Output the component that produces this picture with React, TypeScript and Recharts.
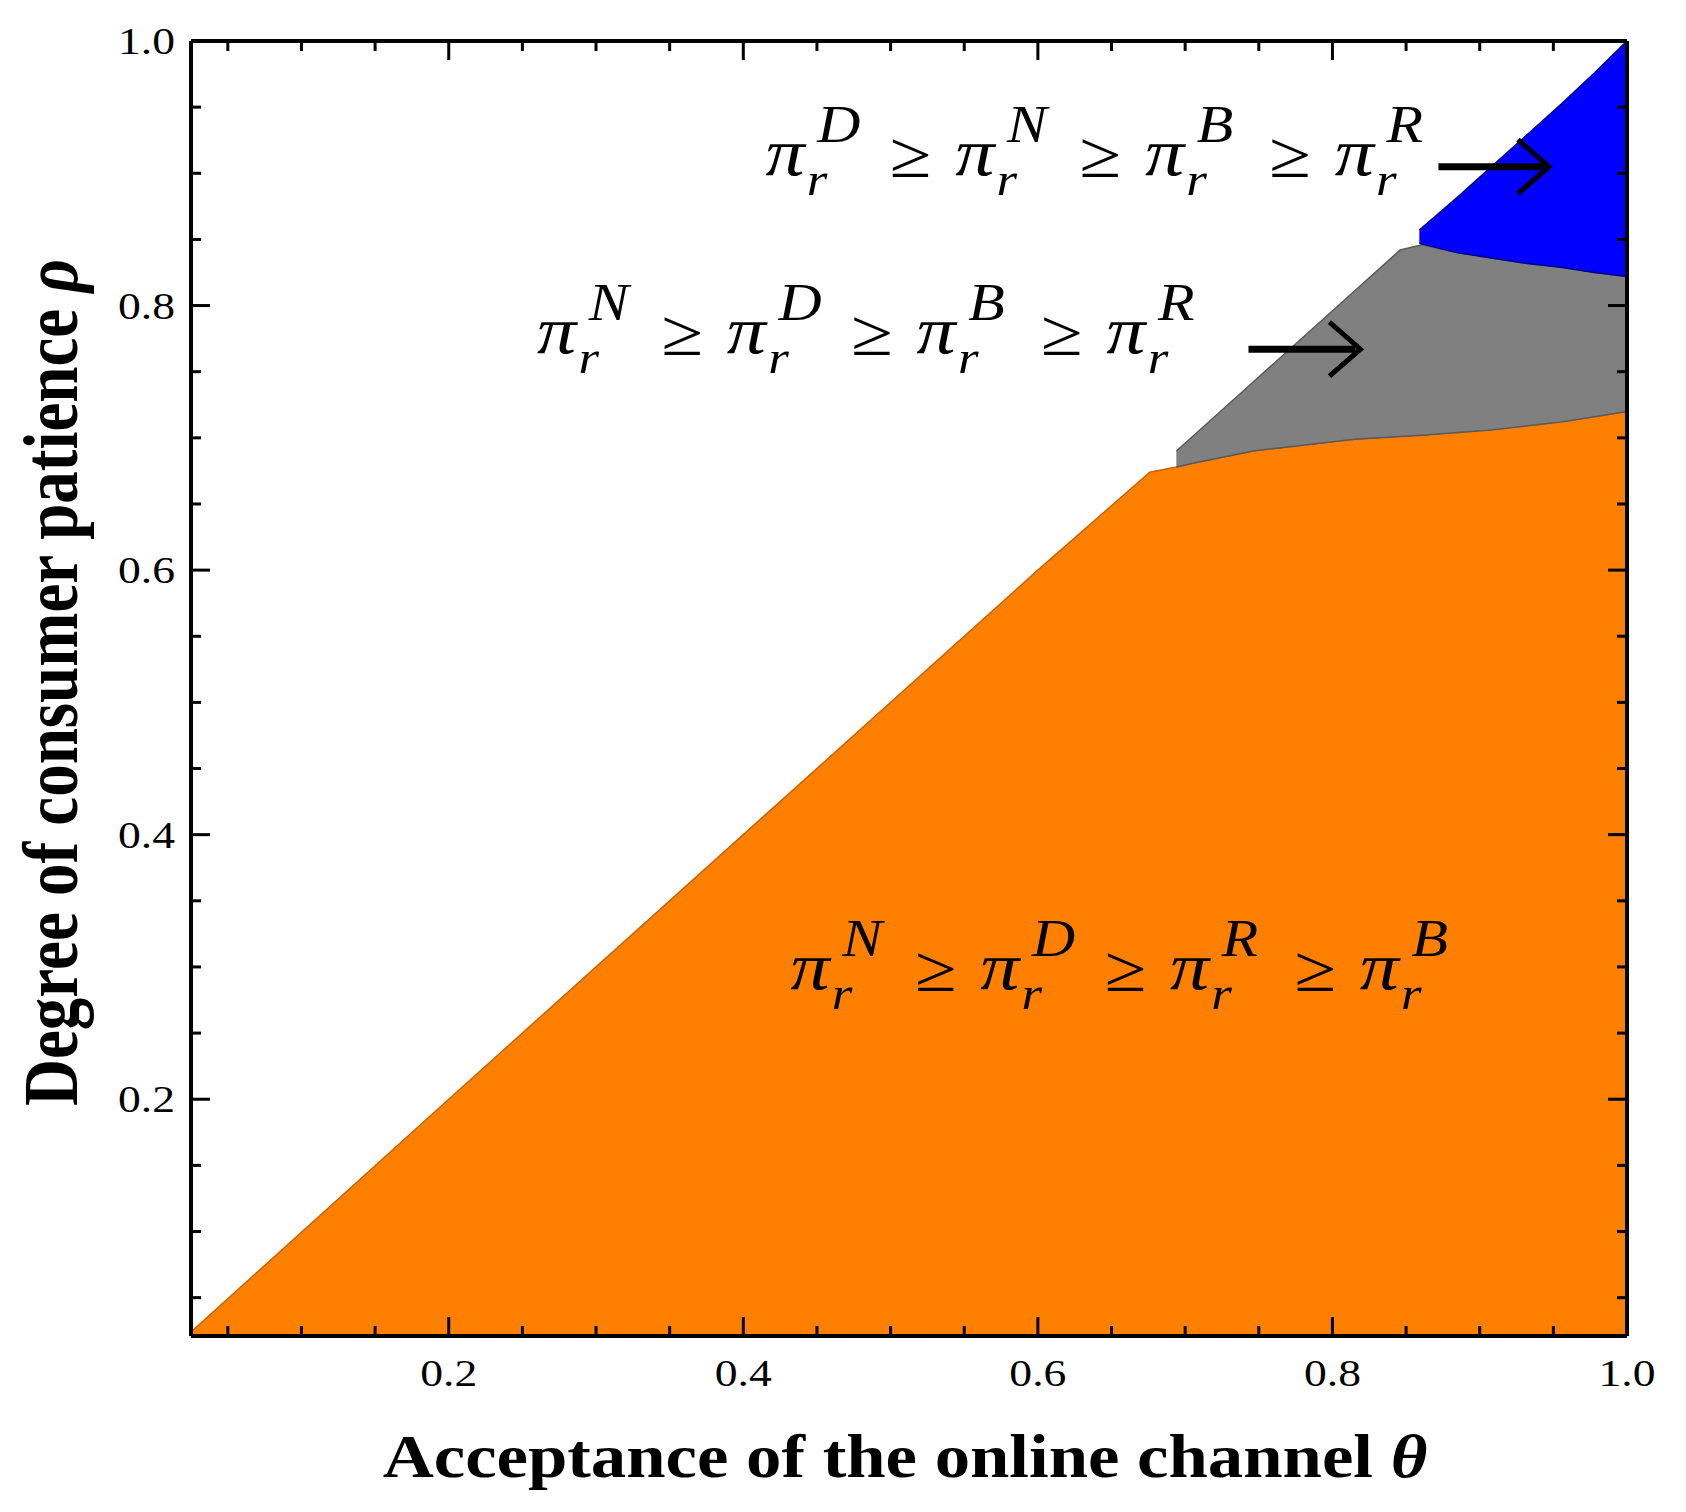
import React from "react";
import {
  ComposedChart,
  Area,
  XAxis,
  YAxis,
  ReferenceDot,
  ReferenceLine,
} from "recharts";

// region boundaries (theta on x, rho on y)
const orangeTheta = [0.025, 0.2, 0.4, 0.6, 0.676, 0.694, 0.706, 0.746, 0.815, 0.885, 0.931, 0.966, 1.0];
const orangeRho = [0.024, 0.2, 0.4, 0.6, 0.674, 0.678, 0.681, 0.69, 0.699, 0.704, 0.709, 0.714, 0.72];

const grayTheta = [0.694, 0.706, 0.746, 0.815, 0.846, 0.861, 0.885, 0.908, 0.931, 0.955, 0.978, 1.0];
const grayLow = [0.678, 0.681, 0.69, 0.699, 0.701, 0.702, 0.704, 0.706, 0.709, 0.712, 0.716, 0.72];
const grayHigh = [0.69, 0.702, 0.742, 0.811, 0.842, 0.846, 0.84, 0.836, 0.832, 0.829, 0.825, 0.822];

const blueTheta = [0.859, 0.885, 0.908, 0.931, 0.955, 0.978, 1.0];
const blueLow = [0.847, 0.84, 0.836, 0.832, 0.829, 0.825, 0.822];
const blueHigh = [0.857, 0.882, 0.905, 0.928, 0.952, 0.976, 1.0];

const xTicks = [0.05, 0.1, 0.15, 0.2, 0.25, 0.3, 0.35, 0.4, 0.45, 0.5, 0.55, 0.6, 0.65, 0.7, 0.75, 0.8, 0.85, 0.9, 0.95, 1.0];
const yTicks = [0.05, 0.1, 0.15, 0.2, 0.25, 0.3, 0.35, 0.4, 0.45, 0.5, 0.55, 0.6, 0.65, 0.7, 0.75, 0.8, 0.85, 0.9, 0.95, 1.0];

// inequality annotations
const formulaSupers = [
  ["D", "N", "B", "R"],
  ["N", "D", "B", "R"],
  ["N", "D", "R", "B"],
];
const formulaTheta = [0.415, 0.26, 0.432];
const formulaRho = [0.899, 0.764, 0.283];

const arrowFrom = [0.872, 0.743];
const arrowTo = [0.947, 0.819];
const arrowRho = [0.905, 0.767];

const orangeData = orangeTheta.map((x, i) => ({ x, rho: orangeRho[i] }));
const grayData = grayTheta.map((x, i) => ({ x, band: [grayLow[i], grayHigh[i]] }));
const blueData = blueTheta.map((x, i) => ({ x, band: [blueLow[i], blueHigh[i]] }));

const SERIF = '"Liberation Serif", "Times New Roman", serif';

const isMajor = (v: number) => Math.abs(v * 5 - Math.round(v * 5)) < 1e-6;

function BottomTick(props: any) {
  const { x, y, payload } = props;
  const major = isMajor(payload.value);
  return (
    <g>
      <line x1={x} y1={y} x2={x} y2={y - (major ? 19 : 10)} stroke="#000" strokeWidth={3} />
      {major && (
        <text
          transform={`translate(${x},${y + 50}) scale(1.2,1)`}
          textAnchor="middle"
          fontFamily={SERIF}
          fontSize={38}
          fill="#000"
        >
          {payload.value.toFixed(1)}
        </text>
      )}
    </g>
  );
}

function TopTick(props: any) {
  const { x, y, payload } = props;
  const major = isMajor(payload.value);
  return <line x1={x} y1={y} x2={x} y2={y + (major ? 19 : 10)} stroke="#000" strokeWidth={3} />;
}

function LeftTick(props: any) {
  const { x, y, payload } = props;
  const major = isMajor(payload.value);
  return (
    <g>
      <line x1={x} y1={y} x2={x + (major ? 19 : 10)} y2={y} stroke="#000" strokeWidth={3} />
      {major && (
        <text
          transform={`translate(${x - 16},${y + 13}) scale(1.2,1)`}
          textAnchor="end"
          fontFamily={SERIF}
          fontSize={38}
          fill="#000"
        >
          {payload.value.toFixed(1)}
        </text>
      )}
    </g>
  );
}

function RightTick(props: any) {
  const { x, y, payload } = props;
  const major = isMajor(payload.value);
  return <line x1={x} y1={y} x2={x - (major ? 19 : 10)} y2={y} stroke="#000" strokeWidth={3} />;
}

function XTitle(props: any) {
  const { x, y, width } = props.viewBox;
  return (
    <text
      transform={`translate(${x + width / 2 - 4},${y + 141}) scale(1.16,1)`}
      textAnchor="middle"
      fontFamily={SERIF}
      fontWeight="bold"
      fontSize={61}
      fill="#000"
    >
      Acceptance of the online channel <tspan fontStyle="italic">θ</tspan>
    </text>
  );
}

function YTitle(props: any) {
  const { y, height } = props.viewBox;
  return (
    <text
      transform={`translate(69,${y + height / 2 - 6}) scale(1.2,1) rotate(-90)`}
      textAnchor="middle"
      fontFamily={SERIF}
      fontWeight="bold"
      fontSize={65}
      fill="#000"
    >
      Degree of consumer patience <tspan fontStyle="italic">ρ</tspan>
    </text>
  );
}

// one text element per inequality; sub/superscripts stacked with tspans
function Formula({ cx, cy, supers }: { cx: number; cy: number; supers: string[] }) {
  const parts: React.ReactNode[] = [];
  supers.forEach((s, i) => {
    const x0 = i * 165;
    parts.push(
      <tspan key={`p${i}`} x={x0} y={0} fontSize={68} fontStyle="italic">π</tspan>,
      <tspan key={`r${i}`} x={x0 + 36} y={20} fontSize={46} fontStyle="italic">r</tspan>,
      <tspan key={`s${i}`} x={x0 + 45} y={-33} fontSize={52} fontStyle="italic">{s}</tspan>
    );
    if (i < supers.length - 1) {
      parts.push(
        <tspan key={`g${i}`} x={x0 + 108} y={2} fontSize={66}>≥</tspan>
      );
    }
  });
  return (
    <text transform={`translate(${cx},${cy}) scale(1.15,1)`} fontFamily={SERIF} fill="#000">
      {parts}
    </text>
  );
}

function Arrow(props: any) {
  const { x1, y1, x2 } = props;
  return (
    <g>
      <line x1={x1} y1={y1} x2={x2 - 5} y2={y1} stroke="#000" strokeWidth={7} />
      <polyline
        points={`${x2 - 31},${y1 - 27} ${x2},${y1} ${x2 - 31},${y1 + 27}`}
        fill="none"
        stroke="#000"
        strokeWidth={5}
      />
    </g>
  );
}

export default function App() {
  return (
    <div style={{ width: 1670, height: 1500 }}>
      <ComposedChart width={1670} height={1500} margin={{ top: 32, right: 50, bottom: 0, left: 0 }}>
        <XAxis
          dataKey="x"
          type="number"
          domain={[0.025, 1]}
          allowDataOverflow
          ticks={xTicks}
          interval={0}
          tickSize={0}
          tickMargin={0}
          tickLine={false}
          tick={BottomTick}
          height={172}
          axisLine={{ stroke: "#000", strokeWidth: 4 }}
          label={{ content: XTitle }}
        />
        <XAxis
          xAxisId="top"
          orientation="top"
          dataKey="x"
          type="number"
          domain={[0.025, 1]}
          allowDataOverflow
          ticks={xTicks}
          interval={0}
          tickSize={0}
          tickMargin={0}
          tickLine={false}
          tick={TopTick}
          height={1}
          axisLine={{ stroke: "#000", strokeWidth: 4 }}
        />
        <YAxis
          type="number"
          domain={[0.021, 1]}
          allowDataOverflow
          ticks={yTicks}
          interval={0}
          tickSize={0}
          tickMargin={0}
          tickLine={false}
          tick={LeftTick}
          width={183}
          axisLine={{ stroke: "#000", strokeWidth: 4 }}
          label={{ content: YTitle }}
        />
        <YAxis
          yAxisId="right"
          orientation="right"
          type="number"
          domain={[0.021, 1]}
          allowDataOverflow
          ticks={yTicks}
          interval={0}
          tickSize={0}
          tickMargin={0}
          tickLine={false}
          tick={RightTick}
          width={1}
          axisLine={{ stroke: "#000", strokeWidth: 4 }}
        />
        <Area
          data={orangeData}
          dataKey="rho"
          type="linear"
          baseValue={0.021}
          fill="#ff8000"
          fillOpacity={1}
          stroke="#c86400"
          strokeWidth={1.5}
          isAnimationActive={false}
        />
        <Area
          data={grayData}
          dataKey="band"
          type="linear"
          fill="#808080"
          fillOpacity={1}
          stroke="#5a5a5a"
          strokeWidth={1.5}
          isAnimationActive={false}
        />
        <Area
          data={blueData}
          dataKey="band"
          xAxisId="top"
          yAxisId="right"
          type="linear"
          fill="#0000ff"
          fillOpacity={1}
          stroke="#00008c"
          strokeWidth={1.5}
          isAnimationActive={false}
        />
        {formulaSupers.map((supers, i) => (
          <ReferenceDot
            key={`f${i}`}
            x={formulaTheta[i]}
            y={formulaRho[i]}
            r={0}
            ifOverflow="visible"
            shape={(p: any) => <Formula cx={p.cx} cy={p.cy} supers={supers} />}
          />
        ))}
        {arrowFrom.map((a, i) => (
          <ReferenceLine
            key={`a${i}`}
            segment={[
              { x: a, y: arrowRho[i] },
              { x: arrowTo[i], y: arrowRho[i] },
            ]}
            ifOverflow="visible"
            shape={Arrow}
          />
        ))}
      </ComposedChart>
    </div>
  );
}
